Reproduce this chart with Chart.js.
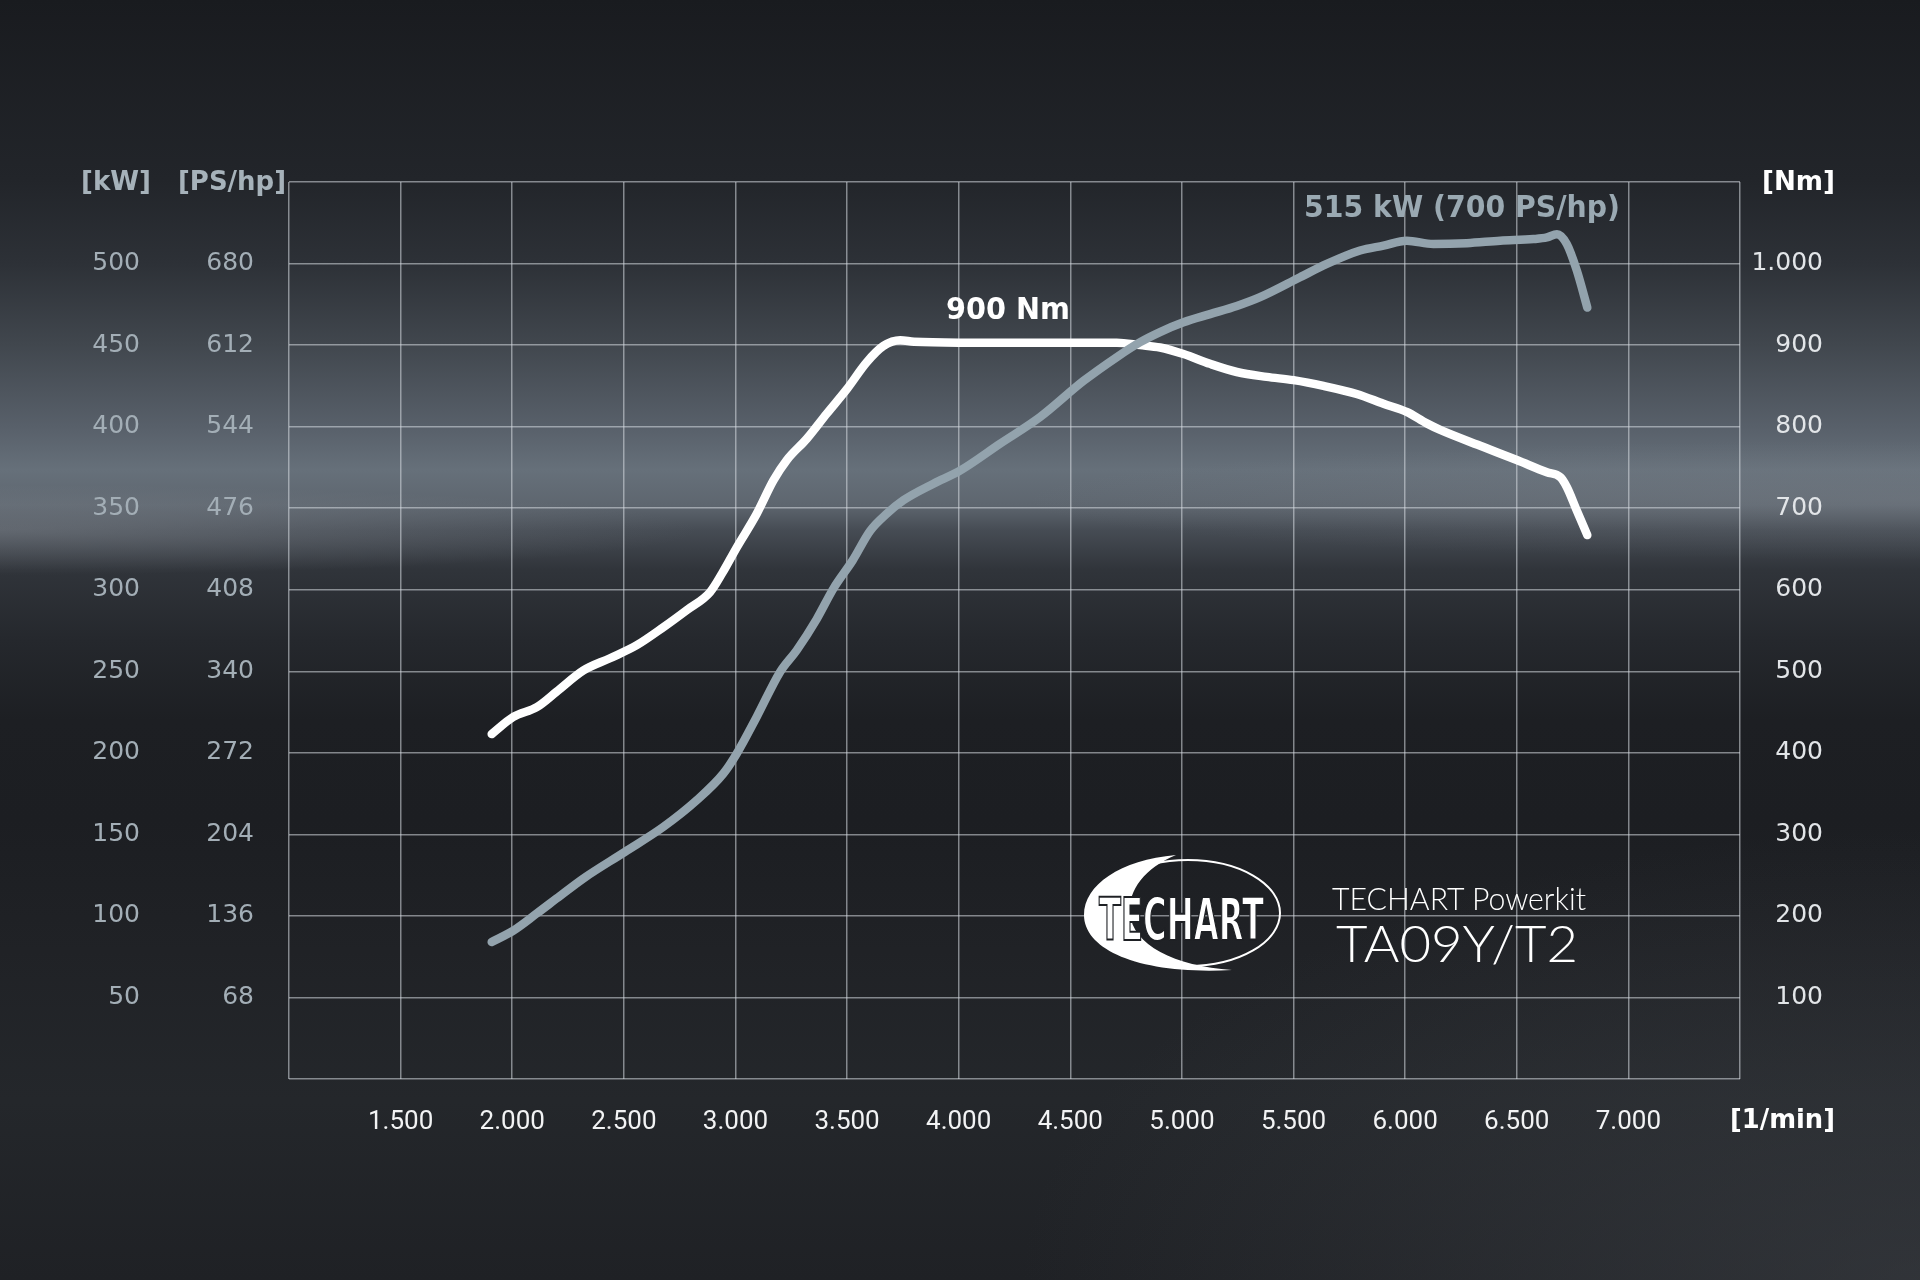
<!DOCTYPE html>
<html>
<head>
<meta charset="utf-8">
<script src="https://cdn.jsdelivr.net/npm/chart.js@4.4.1/dist/chart.umd.min.js"></script>
<style>
  html, body { margin: 0; padding: 0; background: #1c1e22; overflow: hidden; }
  #wrap {
    position: relative; width: 1920px; height: 1280px;
    background:
      radial-gradient(ellipse 700px 45px at 0px 530px, rgba(150,156,164,0.35), rgba(150,156,164,0) 100%),
      radial-gradient(ellipse 900px 60px at 1920px 500px, rgba(140,146,154,0.25), rgba(140,146,154,0) 100%),
      radial-gradient(ellipse 900px 450px at 1920px 1280px, rgba(70,74,80,0.45), rgba(70,74,80,0) 100%),
      linear-gradient(to bottom,
        #191b1f 0px, #22252a 180px, #2d3137 264px, #41474e 345px, #58606a 427px,
        #66707a 470px, #5e666f 505px, #464c54 530px, #30343a 570px, #25282d 640px,
        #1d1f23 720px, #1c1e22 820px, #202226 950px, #24272b 1100px, #1f2125 1280px);
  }
  #c { position: absolute; left: 0; top: 0; width: 1920px; height: 1280px; }
  #ov { position: absolute; left: 0; top: 0; width: 1920px; height: 1280px; pointer-events: none; }
  .b { font-family: "DejaVu Sans", sans-serif; font-weight: bold; }
  .l { font-family: Lato, "Open Sans", sans-serif; font-weight: 300; }
</style>
</head>
<body>
<div id="wrap">
  <canvas id="c" width="1920" height="1280"></canvas>
  <svg id="ov" viewBox="0 0 1920 1280" xmlns="http://www.w3.org/2000/svg">
    <text class="b" x="81" y="190" font-size="27" fill="#a6b2ba" textLength="70" lengthAdjust="spacingAndGlyphs">[kW]</text>
    <text class="b" x="178" y="190" font-size="27" fill="#a6b2ba" textLength="108" lengthAdjust="spacingAndGlyphs">[PS/hp]</text>
    <text class="b" x="1762" y="190" font-size="27" fill="#ffffff" textLength="73" lengthAdjust="spacingAndGlyphs">[Nm]</text>
    <text class="b" x="1730" y="1128" font-size="27" fill="#ffffff" textLength="105" lengthAdjust="spacingAndGlyphs">[1/min]</text>
    <text class="b" x="946" y="319" font-size="31" fill="#ffffff" textLength="124" lengthAdjust="spacingAndGlyphs">900 Nm</text>
    <text class="b" x="1304" y="217" font-size="31" fill="#9aa9b2" textLength="316" lengthAdjust="spacingAndGlyphs">515 kW (700 PS/hp)</text>
    <!-- logo -->
    <ellipse cx="1188" cy="913" rx="92" ry="53" fill="none" stroke="#ffffff" stroke-width="2"/>
    <path d="M 1176 855 C 1120 860, 1084 885, 1084 915 C 1084 950, 1140 975, 1232 970 C 1175 966, 1132 945, 1130 913 C 1128 890, 1145 868, 1176 855 Z" fill="#ffffff"/>
    <text class="b" x="1099" y="940" font-size="58" fill="#ffffff" stroke="#1e2024" stroke-width="2" textLength="165" lengthAdjust="spacingAndGlyphs">TECHART</text>
    <text class="l" x="1332" y="910" font-size="31" fill="#ffffff" textLength="254" lengthAdjust="spacingAndGlyphs">TECHART Powerkit</text>
    <text class="l" x="1336" y="962" font-size="52" fill="#ffffff" textLength="242" lengthAdjust="spacingAndGlyphs">TA09Y/T2</text>
  </svg>
</div>
<script>
// ---- data ----
const powerRpm = [1908,2005,2110,2199,2319,2505,2677,2827,2946,3006,3095,3200,3275,3364,3440,3525,3603,3678,3752,3887,4006,4185,4364,4559,4708,4813,4902,5007,5126,5246,5350,5529,5649,5798,5903,6007,6126,6276,6426,6575,6635,6680,6724,6769,6816];
const powerKw  = [84,91,101.5,110.7,123,139.3,154.6,171,187.3,199.6,222,249.6,263,282,301,318,336,346.6,354.8,365,373,389.5,405.8,428,442.6,451.8,458,464,469,474,479.4,491.6,499.8,508,511,514,512,512.5,514,515,516,518,512,495.7,473];

const torqueRpm = [1908,2005,2110,2199,2319,2438,2558,2677,2782,2886,2940,3006,3095,3170,3230,3319,3409,3499,3588,3663,3738,3800,4000,4400,4708,4813,4902,5007,5126,5246,5380,5500,5634,5783,5903,6007,6097,6157,6351,6500,6635,6695,6724,6769,6816];
const torqueNm  = [423,444,456,475,501,516,532,554,575,597,620,652,693,734,759,785,816,846,879,899,906,904,903,903,903,900,897,889,877,867,861,857,850,840,828,818,804,796,775,759,744,738,726,697,667];

// tick labels
const rpmTicks = [1500,2000,2500,3000,3500,4000,4500,5000,5500,6000,6500,7000];
const kwTicks  = [50,100,150,200,250,300,350,400,450,500];
const psTicks  = [68,136,204,272,340,408,476,544,612,680];
const nmTicks  = [100,200,300,400,500,600,700,800,900,1000];

function fmt(n) {
  if (n >= 1000) return Math.floor(n / 1000) + '.' + String(n % 1000).padStart(3, '0');
  return String(n);
}

const gridColor = 'rgba(215,220,225,0.55)';
const labelFont = { family: '"DejaVu Sans", sans-serif', size: 25, weight: 400 };

new Chart(document.getElementById('c'), {
  type: 'line',
  data: {
    datasets: [
      {
        label: 'kW',
        data: powerRpm.map((x, i) => ({ x: x, y: powerKw[i] })),
        xAxisID: 'x', yAxisID: 'yKw',
        borderColor: '#93a3ad', borderWidth: 8.5,
        pointRadius: 0, cubicInterpolationMode: 'monotone',
        borderCapStyle: 'round', borderJoinStyle: 'round', fill: false
      },
      {
        label: 'Nm',
        data: torqueRpm.map((x, i) => ({ x: x, y: torqueNm[i] })),
        xAxisID: 'x', yAxisID: 'yNm',
        borderColor: '#ffffff', borderWidth: 8.5,
        pointRadius: 0, cubicInterpolationMode: 'monotone',
        borderCapStyle: 'round', borderJoinStyle: 'round', fill: false
      }
    ]
  },
  options: {
    responsive: false,
    devicePixelRatio: 1,
    animation: false,
    layout: { padding: { left: 0, right: 97, top: 182, bottom: 121 } },
    plugins: { legend: { display: false }, tooltip: { enabled: false } },
    scales: {
      x: {
        type: 'linear', position: 'bottom', min: 1000, max: 7500,
        ticks: {
          stepSize: 500, autoSkip: false, maxRotation: 0, minRotation: 0, padding: 28,
          color: '#f2f3f4', font: { family: 'Roboto, sans-serif', size: 26, weight: 400 },
          callback: v => rpmTicks.includes(v) ? fmt(v) : ''
        },
        grid: { color: gridColor, lineWidth: 1.5, drawTicks: false },
        border: { display: false },
        afterFit: s => { s.height = 80; }
      },
      yKw: {
        position: 'left', min: 0, max: 550, weight: 2,
        ticks: {
          stepSize: 50, padding: 10, color: '#a3aeb6', font: labelFont,
          callback: v => kwTicks.includes(v) ? String(v) : ''
        },
        grid: { color: gridColor, lineWidth: 1.5, drawTicks: false },
        border: { display: false },
        afterFit: s => { s.width = 150; }
      },
      yPs: {
        position: 'left', min: 0, max: 550, weight: 1,
        ticks: {
          stepSize: 50, padding: 35, color: '#a3aeb6', font: labelFont,
          callback: v => { const i = kwTicks.indexOf(v); return i >= 0 ? String(psTicks[i]) : ''; }
        },
        grid: { display: false, drawTicks: false },
        border: { display: false },
        afterFit: s => { s.width = 139; }
      },
      yNm: {
        position: 'right', min: 0, max: 1100,
        ticks: {
          stepSize: 100, crossAlign: 'far', color: '#e2e5e8', font: labelFont,
          callback: v => nmTicks.includes(v) ? fmt(v) : ''
        },
        grid: { display: false, drawTicks: false },
        border: { display: false },
        afterFit: s => { s.width = 83; }
      }
    }
  }
});
</script>
</body>
</html>
